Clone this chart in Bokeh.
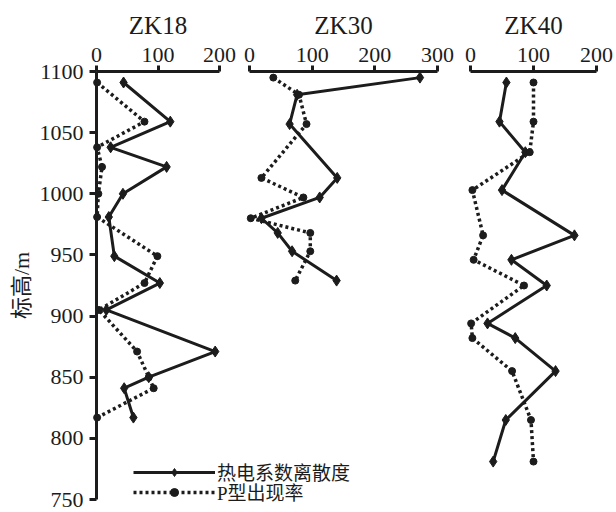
from bokeh.plotting import figure
from bokeh.models import Range1d, LinearAxis, FixedTicker, Legend, LegendItem
from bokeh.embed import file_html
from bokeh.resources import INLINE

# ---------------- data ----------------
boreholes = ["ZK18", "ZK30", "ZK40"]
series_names = ["热电系数离散度", "P型出现率"]
y_label = "标高/m"

zk18_elev = [1091, 1059, 1038, 1022, 1000, 981, 949, 927, 905, 871, 850, 841, 817]
zk18_dispersion = [44, 120, 23, 114, 43, 20, 29, 103, 16, 193, 85, 45, 60]
zk18_p_rate = [1, 78, 1, 9, 3, 1, 99, 78, 4, 66, 85, 93, 1]

zk30_elev = [1095, 1081, 1057, 1013, 997, 980, 968, 953, 929]
zk30_dispersion = [272, 76, 64, 140, 112, 19, 45, 68, 139]
zk30_p_rate = [38, 79, 91, 19, 86, 2, 97, 97, 73]

zk40_elev = [1091, 1059, 1034, 1003, 966, 946, 925, 894, 882, 855, 815, 781]
zk40_dispersion = [57, 46, 87, 50, 165, 65, 121, 27, 71, 135, 56, 36]
zk40_p_rate = [100, 100, 94, 3, 20, 5, 85, 1, 3, 66, 96, 100]

zk18_ticks = [0, 100, 200]
zk30_ticks = [0, 100, 200, 300]
zk40_ticks = [0, 100, 200]
elev_ticks = [750, 800, 850, 900, 950, 1000, 1050, 1100]

# ---------------- layout (the frame fills the whole canvas) ----------------
W, H = 616, 512
# pixel positions of the first and last tick of each top axis
anchors = {"ZK18": (96, 219), "ZK30": (249, 437), "ZK40": (470, 596)}
ticks = {"ZK18": zk18_ticks, "ZK30": zk30_ticks, "ZK40": zk40_ticks}
Y_TOP_PX, Y_BOT_PX = 71, 499   # pixel rows of the first/last elevation tick

def make_xrange(name):
    a0, a1 = anchors[name]
    s = (a1 - a0) / ticks[name][-1]
    return Range1d(-a0 / s, (W - a0) / s)

sy = (Y_BOT_PX - Y_TOP_PX) / (elev_ticks[-1] - elev_ticks[0])
y_range = Range1d(elev_ticks[0] - (H - Y_BOT_PX) / sy, elev_ticks[-1] + Y_TOP_PX / sy)

INK = "#1c1c1c"
SERIF = "Liberation Serif"
MIXED = "Liberation Serif, Noto Sans CJK SC"

p = figure(width=W, height=H, x_range=make_xrange("ZK18"), y_range=y_range,
           x_axis_location=None, y_axis_location="left",
           output_backend="svg", toolbar_location=None,
           min_border_left=0, min_border_right=0,
           min_border_top=0, min_border_bottom=0)
p.extra_x_ranges = {"ZK30": make_xrange("ZK30"), "ZK40": make_xrange("ZK40")}
p.outline_line_color = None
p.grid.visible = False
p.background_fill_color = "white"
p.border_fill_color = "white"

# y axis, drawn at x = 0 of the ZK18 scale
ya = p.yaxis[0]
ya.fixed_location = 0
ya.bounds = (elev_ticks[0], elev_ticks[-1])
ya.ticker = FixedTicker(ticks=elev_ticks, minor_ticks=[])
ya.axis_line_width = 3
ya.axis_line_color = INK
ya.major_tick_line_width = 3
ya.major_tick_line_color = INK
ya.major_tick_in = 0
ya.major_tick_out = 7
ya.minor_tick_line_color = None
ya.major_label_text_font = SERIF
ya.major_label_text_font_size = "22px"
ya.major_label_text_color = INK
ya.major_label_standoff = 6
ya.axis_label = y_label
ya.axis_label_text_font = MIXED
ya.axis_label_text_font_size = "22px"
ya.axis_label_text_font_style = "normal"
ya.axis_label_text_color = INK
ya.axis_label_standoff = 3

# top axes, drawn at the top elevation
for name in boreholes:
    ax = LinearAxis(x_range_name="default" if name == "ZK18" else name,
                    ticker=FixedTicker(ticks=ticks[name], minor_ticks=[]),
                    bounds=(ticks[name][0], ticks[name][-1]),
                    fixed_location=elev_ticks[-1],
                    axis_label=name)
    ax.axis_line_width = 3
    ax.axis_line_color = INK
    ax.major_tick_line_width = 3
    ax.major_tick_line_color = INK
    ax.major_tick_in = 0
    ax.major_tick_out = 6
    ax.minor_tick_line_color = None
    ax.major_label_text_font = SERIF
    ax.major_label_text_font_size = "22px"
    ax.major_label_text_color = INK
    ax.major_label_standoff = 4
    ax.axis_label_text_font = SERIF
    ax.axis_label_text_font_size = "25px"
    ax.axis_label_text_font_style = "normal"
    ax.axis_label_text_color = INK
    ax.axis_label_standoff = 6
    p.add_layout(ax, "above")

data = {
    "ZK18": (zk18_elev, zk18_dispersion, zk18_p_rate),
    "ZK30": (zk30_elev, zk30_dispersion, zk30_p_rate),
    "ZK40": (zk40_elev, zk40_dispersion, zk40_p_rate),
}

legend_renderers = None
for name in boreholes:
    elev, disp, prate = data[name]
    rn = "default" if name == "ZK18" else name
    l1 = p.line(disp, elev, x_range_name=rn, line_color=INK, line_width=3)
    m1 = p.scatter(disp, elev, x_range_name=rn, marker="diamond", size=11,
                   fill_color=INK, line_color=INK)
    l2 = p.line(prate, elev, x_range_name=rn, line_color=INK, line_width=3.5,
                line_dash="3 3")
    m2 = p.scatter(prate, elev, x_range_name=rn, marker="circle", size=7,
                   fill_color=INK, line_color=INK)
    if legend_renderers is None:
        legend_renderers = ([l1, m1], [l2, m2])

# one legend box per row, so the two rows sit as close as in the reference
for label, rends, loc in zip(series_names, legend_renderers, [(133, 27), (133, 7)]):
    legend = Legend(items=[LegendItem(label=label, renderers=rends)],
                    location=loc,
                    glyph_width=82, glyph_height=20, label_height=20,
                    label_standoff=2, spacing=0, padding=0, margin=0,
                    border_line_color=None, background_fill_alpha=0,
                    label_text_font=MIXED, label_text_font_size="19px",
                    label_text_color=INK)
    p.add_layout(legend)

open("out.html", "w").write(file_html(p, INLINE))
